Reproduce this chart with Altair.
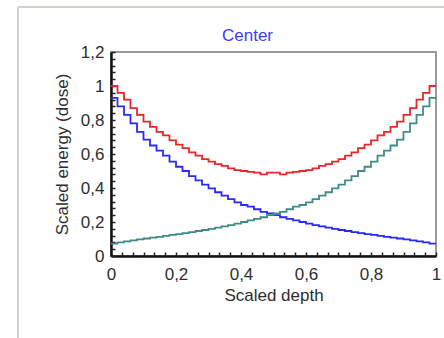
import altair as alt
import pandas as pd

# Depth grid: 50 equal bins over the scaled depth 0..1
BINS = 50
depth = [i / BINS for i in range(BINS + 1)]

# Dose per bin (left edge value of each step)
primary = [0.93, 0.88, 0.83, 0.78, 0.73, 0.685, 0.65, 0.62, 0.59, 0.555,
           0.525, 0.50, 0.47, 0.445, 0.42, 0.398, 0.375, 0.355, 0.335, 0.315,
           0.30, 0.29, 0.275, 0.26, 0.25, 0.24, 0.228, 0.218, 0.21, 0.20,
           0.19, 0.182, 0.174, 0.167, 0.16, 0.153, 0.147, 0.141, 0.135, 0.129,
           0.124, 0.118, 0.113, 0.108, 0.103, 0.098, 0.092, 0.086, 0.08, 0.073]

opposed = [0.073, 0.08, 0.086, 0.092, 0.098, 0.103, 0.108, 0.113, 0.118, 0.124,
           0.129, 0.135, 0.141, 0.147, 0.153, 0.16, 0.167, 0.174, 0.182, 0.19,
           0.20, 0.21, 0.218, 0.228, 0.24, 0.25, 0.26, 0.275, 0.29, 0.30,
           0.315, 0.335, 0.355, 0.375, 0.398, 0.42, 0.445, 0.47, 0.50, 0.525,
           0.555, 0.59, 0.62, 0.65, 0.685, 0.73, 0.78, 0.83, 0.88, 0.93]

total = [1.0, 0.96, 0.92, 0.87, 0.83, 0.79, 0.76, 0.73, 0.71, 0.68,
         0.655, 0.635, 0.61, 0.59, 0.57, 0.555, 0.54, 0.53, 0.515, 0.505,
         0.50, 0.495, 0.49, 0.48, 0.49, 0.49, 0.48, 0.49, 0.495, 0.50,
         0.505, 0.515, 0.53, 0.54, 0.555, 0.57, 0.59, 0.61, 0.635, 0.655,
         0.68, 0.71, 0.73, 0.76, 0.79, 0.83, 0.87, 0.92, 0.96, 1.0]

series_names = ["Total", "Primary", "Opposed"]
series_values = [total, primary, opposed]
series_colors = ["#e8262c", "#2a2aff", "#3f8c86"]

x_major = [0, 0.2, 0.4, 0.6, 0.8, 1]
y_major = [0, 0.2, 0.4, 0.6, 0.8, 1, 1.2]
x_minor = [i / 30 for i in range(31)]
y_minor = [round(i * 0.04, 2) for i in range(31)]

rows = []
for name, vals in zip(series_names, series_values):
    for i, v in enumerate(vals):
        rows.append({"series": name, "depth": depth[i], "value": v})
    # close the last step at depth 1
    rows.append({"series": name, "depth": depth[-1], "value": vals[-1]})
df = pd.DataFrame(rows)

W, H = 325, 204
FONT = "Liberation Sans"
TEXT_COLOR = "#2e2e2e"
LABEL_EXPR = "replace(format(datum.value, '.2~f'), '.', ',')"

x_scale = alt.Scale(domain=[0, 1], nice=False, zero=False)
y_scale = alt.Scale(domain=[0, 1.2], nice=False, zero=False)

base = alt.Chart(df)
single = alt.Chart(pd.DataFrame({"label": ["Center"]}))

lines = base.mark_line(interpolate="step-after", strokeWidth=1.8).encode(
    x=alt.X("depth:Q", scale=x_scale,
            axis=alt.Axis(values=x_major, title="Scaled depth", ticks=False,
                          grid=False, labelExpr=LABEL_EXPR,
                          domainColor="#111111", domainWidth=2.5,
                          labelFont=FONT, labelFontSize=17, labelColor=TEXT_COLOR,
                          labelPadding=10, labelFlush=False,
                          titleFont=FONT, titleFontSize=17, titleFontWeight="normal",
                          titleColor=TEXT_COLOR, titlePadding=5)),
    y=alt.Y("value:Q", scale=y_scale,
            axis=alt.Axis(values=y_major, title="Scaled energy (dose)", ticks=False,
                          grid=False, labelExpr=LABEL_EXPR,
                          domainColor="#111111", domainWidth=2.5,
                          labelFont=FONT, labelFontSize=17, labelColor=TEXT_COLOR,
                          labelPadding=7, labelFlush=False,
                          titleFont=FONT, titleFontSize=17, titleFontWeight="normal",
                          titleColor=TEXT_COLOR, titlePadding=9)),
    color=alt.Color("series:N",
                    scale=alt.Scale(domain=series_names, range=series_colors),
                    legend=None),
)

# Inward-pointing tick marks along the bottom and left edges
ticks = base.mark_point(opacity=0).encode(
    x=alt.X("depth:Q", scale=x_scale,
            axis=alt.Axis(orient="top", offset=-H, values=x_minor, labels=False,
                          domain=False, grid=False, tickSize=4, tickWidth=1.5,
                          tickColor="#222222", title=None)),
    y=alt.Y("value:Q", scale=y_scale,
            axis=alt.Axis(orient="right", offset=-W, values=y_minor, labels=False,
                          domain=False, grid=False, tickSize=4, tickWidth=1.5,
                          tickColor="#222222", title=None)),
)

# Panel heading above the plot
heading = single.mark_text(font=FONT, fontSize=17, color="#3c3cff",
                           align="center", baseline="alphabetic").encode(
    text="label:N", x=alt.value(W / 2 - 26), y=alt.value(-11))

# Light outer panel frame
frame_top = single.mark_rule(color="#d4d0c8", strokeWidth=2).encode(
    x=alt.value(-93), x2=alt.value(340), y=alt.value(-45))
frame_left = single.mark_rule(color="#d4d0c8", strokeWidth=2).encode(
    x=alt.value(-93), y=alt.value(-45), y2=alt.value(300))

chart = alt.layer(frame_top, frame_left, heading, lines, ticks).resolve_axis(
    x="independent", y="independent"
).properties(
    width=W, height=H,
    autosize=alt.AutoSizeParams(type="none"),
    padding={"left": 111, "top": 52, "right": 8, "bottom": 82},
    background="white",
).configure_view(
    stroke="#9a9a9a", strokeWidth=2
)

chart.save("out.html", embed_options={"renderer": "svg", "actions": False})
